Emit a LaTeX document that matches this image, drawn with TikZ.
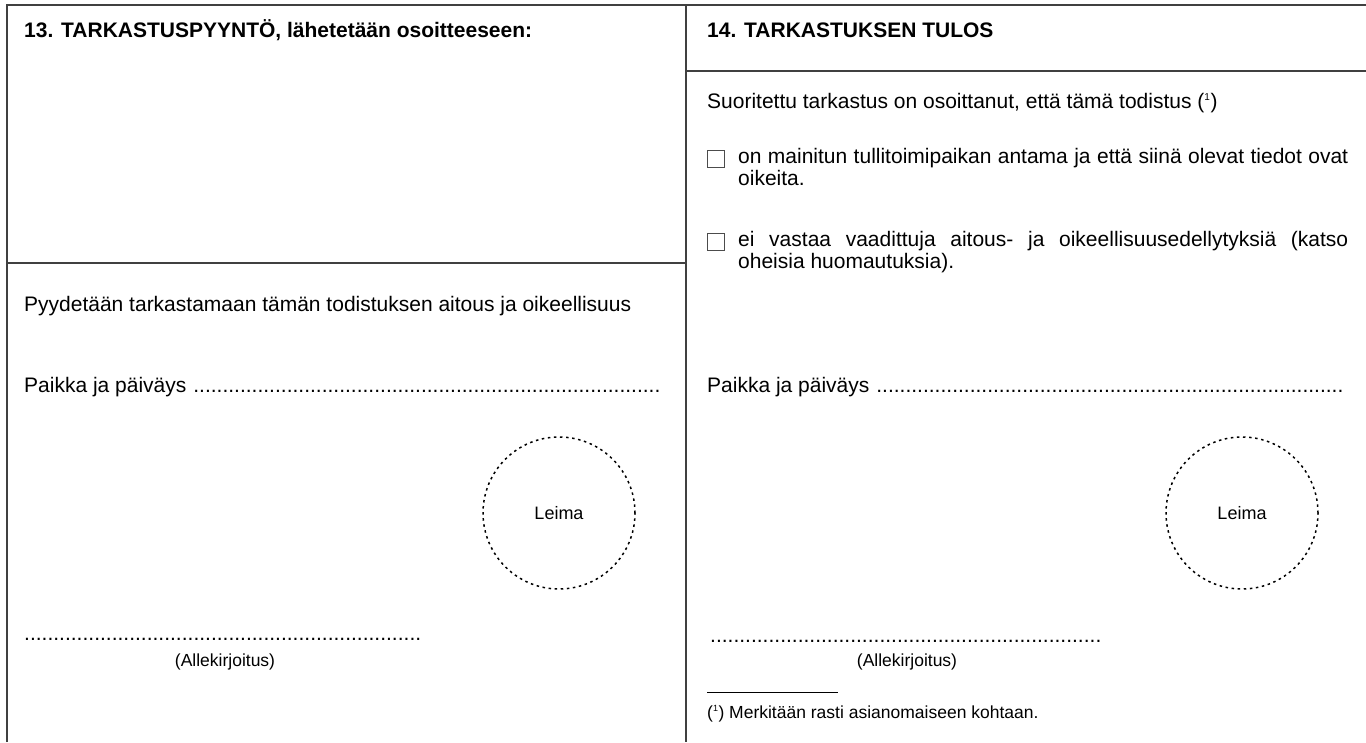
\documentclass[tikz,border=0pt]{standalone}
\usepackage{fontspec}
\setmainfont{Liberation Sans}
\usetikzlibrary{positioning}

\newcommand{\dotrow}{\leaders\hbox{.}\hfill}

\tikzset{
  frame/.style={line width=1.3pt,black!75},
  head/.style={anchor=base west,inner sep=0pt,font=\fontsize{21}{24}\selectfont\bfseries},
  body/.style={anchor=base west,inner sep=0pt,font=\fontsize{21}{22}\selectfont},
  note/.style={inner sep=0pt,font=\fontsize{17.5}{20}\selectfont},
  tickbox/.style={draw,black!70,line width=0.8pt,minimum size=17pt,inner sep=0pt},
  stamp/.style={circle,draw,line width=1.5pt,dash pattern=on 2.5pt off 3.6pt,
    minimum size=152pt,inner sep=0pt,font=\fontsize{18}{20}\selectfont}
}

\begin{document}
\begin{tikzpicture}[x=1pt,y=-1pt]
  \useasboundingbox (0,0) rectangle (1366,742);

  % Frame
  \draw[frame] (7,742) -- (7,5) -- (1366,5);
  \draw[frame] (686,5) -- (686,742);
  \draw[frame] (7,263) -- (686,263);
  \draw[frame] (686,71) -- (1366,71);

  % Left: 13
  \node[head] (req) at (24,37) {13. TARKASTUSPYYNTÖ, lähetetään osoitteeseen:};
  \node[body] (reqtext) at (24,311) {Pyydetään tarkastamaan tämän todistuksen aitous ja oikeellisuus};
  \node[body] (placeL) at (24,392) {\hbox to 641pt{Paikka ja päiväys \dotrow}};
  \node[stamp] (stampL) at (559,513) {Leima};
  \node[body] (signL) at (24,640) {\hbox to 398pt{\dotrow}};
  \node[note] (signLtext) at (225,662) {(Allekirjoitus)};

  % Right: 14
  \node[head] (res) at (707,37) {14. TARKASTUKSEN TULOS};
  \node[body] (restext) at (707,108) {Suoritettu tarkastus on osoittanut, että tämä todistus (\textsuperscript{\fontsize{10}{10}\selectfont 1})};
  \node[tickbox] (boxA) at (716,159) {};
  \node[body,text width=610pt,align=justify] (optA) at (738,163)
    {on mainitun tullitoimipaikan antama ja että siinä olevat tiedot ovat\linebreak oikeita.};
  \node[tickbox] (boxB) at (716,242) {};
  \node[body,text width=610pt,align=justify] (optB) at (738,246)
    {ei vastaa vaadittuja aitous- ja oikeellisuusedellytyksiä (katso\linebreak oheisia huomautuksia).};
  \node[body] (placeR) at (707,392) {\hbox to 639pt{Paikka ja päiväys \dotrow}};
  \node[stamp] (stampR) at (1242,513) {Leima};
  \node[body] (signR) at (710,642) {\hbox to 393pt{\dotrow}};
  \node[note] (signRtext) at (907,662) {(Allekirjoitus)};

  % Footnote
  \coordinate (ruleA) at (707,692);
  \coordinate (ruleB) at (838,692);
  \draw[line width=0.8pt] (ruleA) -- (ruleB);
  \node[note,anchor=base west] (fn) at (707,718)
    {(\textsuperscript{\fontsize{9}{9}\selectfont 1}) Merkitään rasti asianomaiseen kohtaan.};
\end{tikzpicture}
\end{document}
